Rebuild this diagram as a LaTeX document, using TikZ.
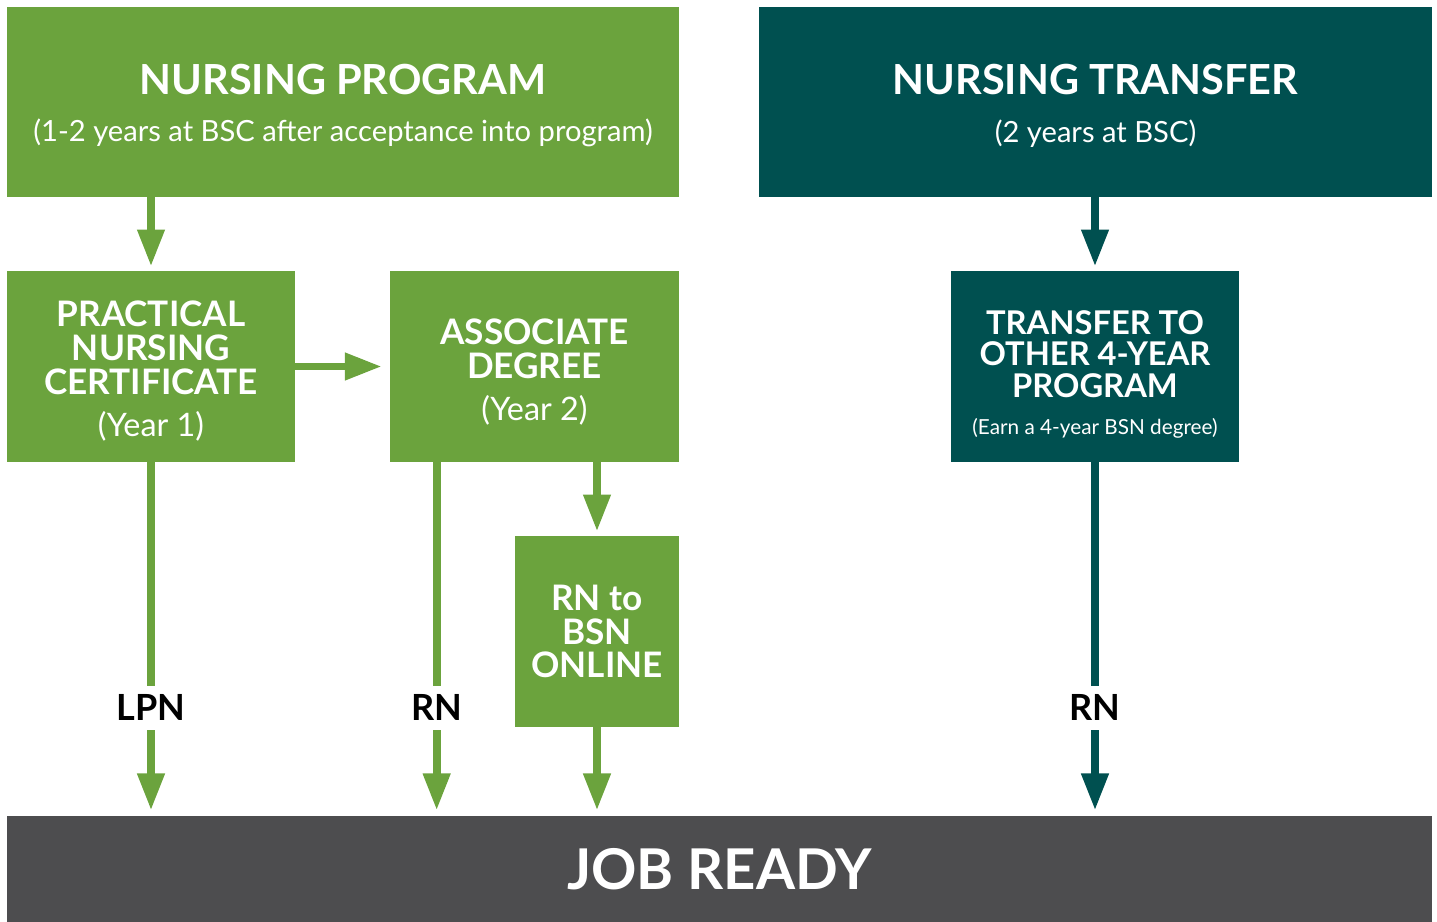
\documentclass[tikz,border=0pt]{standalone}
\usepackage{fontspec}
\setmainfont{Lato}
\usetikzlibrary{arrows.meta,positioning,calc}
\definecolor{npgreen}{HTML}{6BA33D}
\definecolor{ntteal}{HTML}{005050}
\definecolor{jrgray}{HTML}{4D4D4F}
\tikzset{
  gbox/.style={rectangle, fill=npgreen, text=white, inner sep=0pt, align=center, font=\bfseries},
  tbox/.style={gbox, fill=ntteal},
  jbox/.style={gbox, fill=jrgray},
  head/.style={font=\bfseries\fontsize{23.6}{27}\selectfont},
  midf/.style={font=\bfseries\fontsize{20}{19.3}\selectfont},
  garr/.style={draw=npgreen, line width=4.4pt, -{Triangle[length=21pt,width=14.7pt]}, shorten >=2.4pt},
  tarr/.style={garr, draw=ntteal},
  lbl/.style={fill=white, text=black, font=\bfseries\fontsize{20.5}{20}\selectfont, inner xsep=3pt, inner ysep=5pt},
}
\newcommand{\sub}[1]{{\mdseries\fontsize{18.4}{19.3}\selectfont #1}}
\newcommand{\topgap}[1]{\rule{0pt}{#1}}

\begin{document}
\begin{tikzpicture}[x=0.02cm, y=-0.02cm]
  \useasboundingbox (0,0) rectangle (1437,922);

  %% === top row ===
  \node[gbox, head, minimum width=13.44cm, minimum height=3.8cm] (np) at (343,102)
    {\topgap{21.5pt}NURSING PROGRAM\\
     {\mdseries\fontsize{16.6}{27}\selectfont (1-2 years at BSC after acceptance into program)}};
  \node[tbox, head, minimum width=13.46cm, minimum height=3.8cm] (nt) at (1095.5,102)
    {\topgap{21.5pt}NURSING TRANSFER\\
     {\mdseries\fontsize{16.6}{27}\selectfont (2 years at BSC)}};

  %% === middle row ===
  \node[gbox, midf, minimum width=5.76cm, minimum height=3.82cm] (pnc) at (151,366.5)
    {\topgap{20pt}PRACTICAL\\NURSING\\CERTIFICATE\\[4.5pt]\sub{(Year 1)}};
  \node[gbox, midf, minimum width=5.78cm, minimum height=3.82cm] (ad) at (534.5,366.5)
    {\topgap{20.6pt}ASSOCIATE\\DEGREE\\[4.5pt]\sub{(Year 2)}};
  \node[tbox, font=\bfseries\fontsize{18.6}{18}\selectfont, minimum width=5.76cm, minimum height=3.82cm] (tr) at (1095,366.5)
    {\topgap{22.4pt}TRANSFER TO\\OTHER 4-YEAR\\PROGRAM\\[3pt]
     {\mdseries\fontsize{11.8}{13}\selectfont (Earn a 4-year BSN degree)}};
  \node[gbox, midf, minimum width=3.28cm, minimum height=3.82cm] (rb) at (597,631.5)
    {RN to\\BSN\\ONLINE};

  %% === bottom bar ===
  \node[jbox, font=\bfseries\fontsize{32}{36}\selectfont, minimum width=28.5cm, minimum height=2.12cm] (jr) at (719.5,869)
    {JOB READY};

  % Arrows
  \draw[garr] (np.south -| pnc.north) -- (pnc.north);
  \draw[tarr] (nt.south -| tr.north) -- (tr.north);
  \draw[garr, shorten >=4.5pt] (pnc.east) -- (ad.west);
  \draw[garr, shorten >=3pt] (pnc.south) -- (pnc.south |- jr.north)
    node[lbl, pos=0.695] {LPN};
  \draw[garr, shorten >=3pt] ([xshift=0.94cm]ad.south west)
    -- ([xshift=0.94cm]ad.south west |- jr.north) node[lbl, pos=0.695] {RN};
  \draw[garr] (rb.north |- ad.south) -- (rb.north);
  \draw[garr, shorten >=3pt] (rb.south) -- (rb.south |- jr.north);
  \draw[tarr, shorten >=3pt] (tr.south) -- (tr.south |- jr.north)
    node[lbl, pos=0.695] {RN};
\end{tikzpicture}
\end{document}
